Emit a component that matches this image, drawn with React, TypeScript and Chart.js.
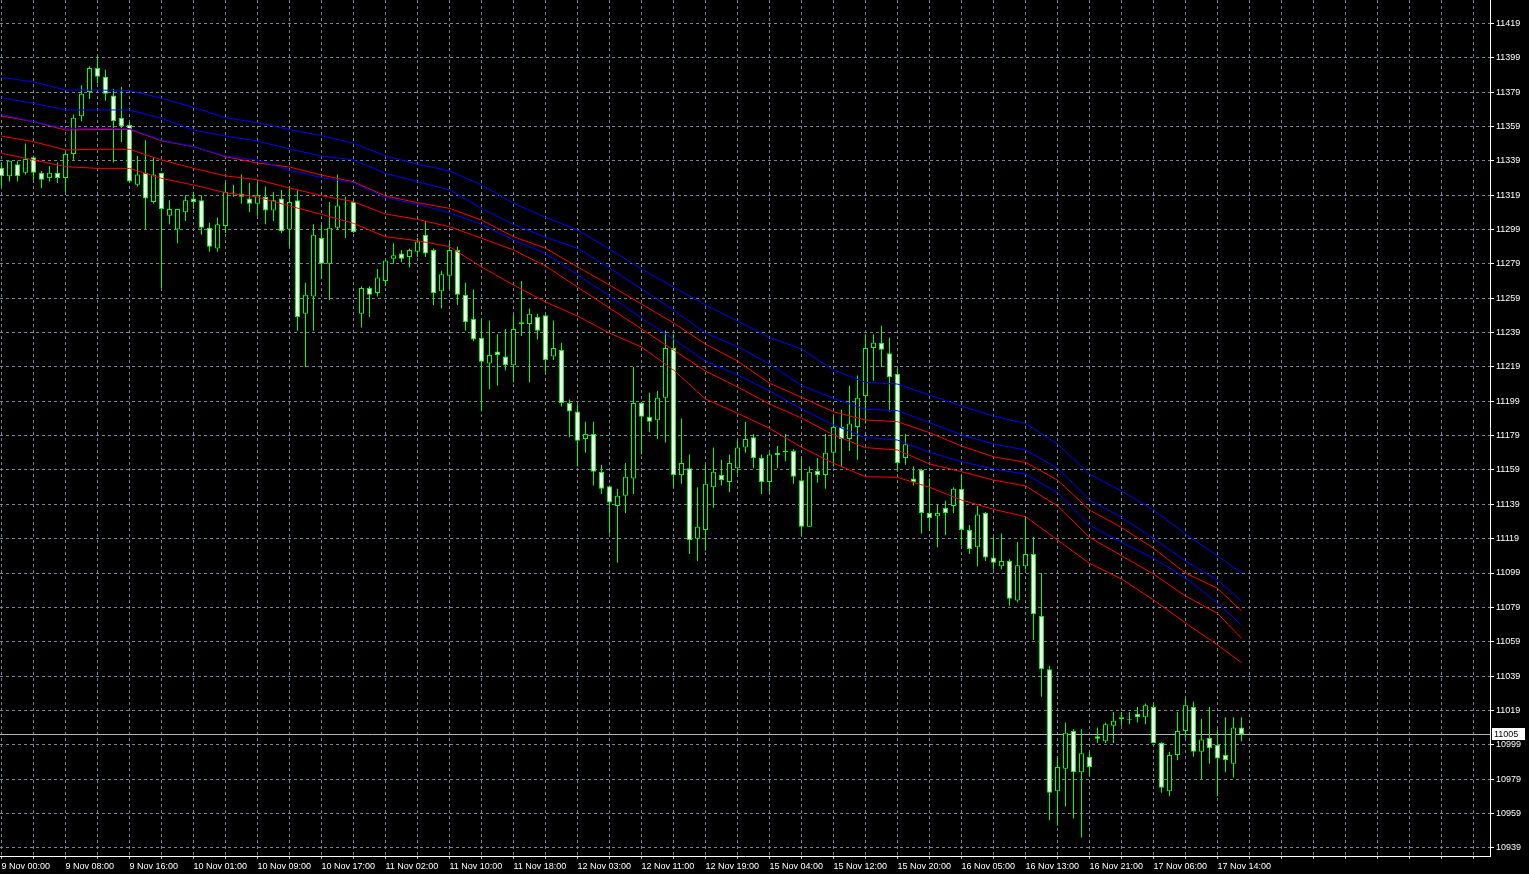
import React, { useEffect, useRef } from 'react';
import { Chart, registerables } from 'chart.js';

Chart.register(...registerables);

// X axis labels (one every 8 hourly bars)
const timeLabels = [
  '9 Nov 00:00', '9 Nov 08:00', '9 Nov 16:00', '10 Nov 01:00', '10 Nov 09:00',
  '10 Nov 17:00', '11 Nov 02:00', '11 Nov 10:00', '11 Nov 18:00', '12 Nov 03:00',
  '12 Nov 11:00', '12 Nov 19:00', '15 Nov 04:00', '15 Nov 12:00', '15 Nov 20:00',
  '16 Nov 05:00', '16 Nov 13:00', '16 Nov 21:00', '17 Nov 06:00', '17 Nov 14:00',
];

// Price axis labels
const priceTicks = [
  11419, 11399, 11379, 11359, 11339, 11319, 11299, 11279, 11259, 11239, 11219, 11199, 11179,
  11159, 11139, 11119, 11099, 11079, 11059, 11039, 11019, 10999, 10979, 10959, 10939,
];

const currentPrice = 11005;

// Hourly candles
const openP = [
  11335, 11330, 11337, 11332, 11341, 11332, 11329, 11332, 11329, 11343,
  11365, 11379, 11393, 11388, 11377, 11364, 11360, 11325, 11332, 11315,
  11332, 11307, 11299, 11309, 11317, 11316, 11300, 11288, 11301, 11321,
  11320, 11317, 11314, 11318, 11310, 11317, 11299, 11316, 11250, 11260,
  11294, 11279, 11300, 11313.5, 11315, 11250, 11265, 11262, 11269, 11282,
  11285, 11283, 11286, 11296, 11287, 11263, 11272, 11287, 11261, 11247,
  11236, 11221, 11228, 11225, 11220, 11245, 11244, 11248, 11249, 11225,
  11229, 11198, 11193, 11177, 11180, 11158, 11149.5, 11138, 11144, 11154,
  11198, 11190, 11188, 11201, 11230, 11156, 11160, 11119, 11124, 11149,
  11156, 11152, 11160, 11172, 11178, 11166, 11152, 11169, 11170, 11170,
  11153, 11126, 11158.5, 11156, 11169, 11184, 11177, 11184, 11202, 11230,
  11233, 11227, 11215, 11166, 11154, 11159, 11134, 11132, 11137, 11138,
  11148, 11124, 11114, 11134, 11108, 11103, 11106, 11083, 11103, 11110,
  11074, 11043, 10972, 10985, 11007, 10983, 10992, 11004, 11001, 11010,
  11015, 11014, 11017, 11015, 11021, 11000, 10972, 10993, 11007, 11021,
  10995, 11003, 10999, 10993, 10988, 11009,
];
const highP = [
  11338, 11339, 11339, 11349, 11342, 11333, 11336, 11338, 11344, 11366,
  11383, 11394, 11400, 11392, 11381, 11382, 11361, 11342, 11351, 11341,
  11332, 11316, 11311, 11319, 11321, 11319, 11303, 11306, 11326, 11325,
  11331, 11326, 11326, 11324, 11321, 11322, 11324, 11322, 11268, 11302,
  11302, 11315, 11331, 11318, 11316, 11266, 11266, 11276, 11281, 11291,
  11287, 11288, 11294, 11304, 11288, 11275, 11291, 11289, 11268, 11264,
  11247, 11246, 11238, 11241, 11249, 11269, 11253, 11250, 11249, 11246,
  11233, 11200, 11197, 11187, 11187, 11162, 11150, 11148, 11163, 11219,
  11198.5, 11204, 11205, 11240, 11238, 11189, 11168, 11149, 11162, 11172,
  11165, 11168, 11176, 11187, 11180, 11168, 11169, 11173, 11180, 11171,
  11166, 11161, 11166, 11180, 11190, 11194, 11208, 11214, 11238, 11238,
  11243, 11236, 11218, 11180, 11161, 11159.5, 11154, 11139, 11141, 11149,
  11156, 11127, 11138, 11134.5, 11120, 11122, 11107, 11117, 11132, 11120,
  11099, 11045, 10992, 11012, 11008, 11008, 10995, 11009, 11012, 11018,
  11018, 11018, 11021, 11023, 11023, 11000.5, 10995, 11018, 11026, 11024,
  11014, 11021, 11008, 11015, 11015, 11015,
];
const lowP = [
  11324, 11327, 11327, 11331, 11328, 11323, 11327, 11326, 11321, 11339,
  11362, 11375, 11384, 11374, 11338, 11350, 11326, 11324, 11299, 11314,
  11265, 11302, 11291, 11304, 11311, 11296, 11286, 11286, 11297, 11318,
  11314, 11309, 11307, 11302, 11304, 11297, 11289, 11240, 11219, 11240,
  11270, 11258, 11299, 11294, 11297, 11242, 11248, 11260, 11266, 11279,
  11280, 11277, 11283, 11283, 11255, 11253, 11264, 11255, 11240, 11234,
  11193, 11206, 11208, 11217, 11210, 11237, 11210, 11235, 11216, 11223,
  11196, 11178, 11161, 11169, 11150, 11145, 11122, 11105, 11134, 11145,
  11168, 11181, 11177, 11175, 11149, 11151, 11110, 11106, 11112, 11137,
  11150, 11146, 11157, 11169, 11160, 11145, 11146, 11160, 11164, 11151,
  11121, 11126, 11151.5, 11148, 11161, 11161, 11170, 11165, 11186, 11211,
  11219, 11193, 11158, 11162, 11150, 11122, 11124, 11114, 11121, 11134,
  11115, 11110, 11103, 11106, 11101, 11101, 11080, 11082, 11101, 11060,
  11027, 10955, 10952, 10963, 10956, 10945, 10981, 11000, 11000, 11000,
  11010, 11011, 11012, 11011, 11000, 10971, 10969, 10990, 11003, 10992,
  10979, 10988, 10969, 10983, 10980, 11001,
];
const closeP = [
  11330, 11339, 11330, 11340, 11332, 11328, 11332, 11329, 11343, 11364,
  11378, 11393, 11388, 11378, 11362, 11359, 11327, 11331, 11317, 11331,
  11311, 11311, 11311, 11316, 11315, 11300, 11289, 11302, 11321, 11320.5,
  11318, 11314, 11319, 11310, 11316, 11298, 11315, 11248, 11261, 11296,
  11279, 11300, 11313, 11314, 11297.5, 11265, 11261, 11271, 11281, 11284,
  11282, 11287, 11292, 11285, 11262, 11273, 11287, 11261, 11245, 11235,
  11222, 11226, 11226, 11220, 11241, 11244, 11250, 11240, 11223, 11230,
  11198, 11193, 11176, 11180, 11158, 11148, 11140, 11144, 11155, 11198,
  11190, 11187, 11201, 11230, 11156, 11163, 11118, 11126, 11151, 11158,
  11153, 11163, 11172, 11177, 11166, 11152, 11168, 11167.5, 11169.5, 11155,
  11126, 11158, 11156, 11169, 11184, 11177, 11186, 11201, 11230, 11233,
  11229, 11213, 11163, 11174, 11152, 11134, 11131, 11134, 11134, 11148,
  11124, 11113, 11133, 11108, 11105, 11106, 11084, 11103.5, 11110, 11075,
  11043, 10971, 10986, 11006, 10983, 10994, 10986, 11002.5, 11011, 11013,
  11014, 11013.5, 11015, 11022, 11000, 10974, 10993, 11007, 11022, 10995,
  11002, 10997, 10991, 10990, 11009, 11005,
];

// Indicator lines, sampled at these bar indices
const maIdx = [
  0, 4, 8, 12, 16, 20, 24, 28, 32, 36, 40, 44, 48, 52, 56, 60, 64, 68, 72, 76,
  80, 84, 88, 92, 96, 100, 104, 108, 112, 116, 120, 124, 128, 132, 136, 140, 144, 148, 152, 155,
];
const blueUpper = [
  11387.5, 11384.9, 11380.2, 11380.2, 11379.9, 11375.4, 11370.1, 11364.1, 11361.2, 11357.2,
  11353.6, 11349.2, 11341.8, 11337.0, 11333.2, 11324.9, 11314.3, 11306.1, 11298.7, 11287.6,
  11276.0, 11265.5, 11255.0, 11245.7, 11236.2, 11229.4, 11217.2, 11210.0, 11209.0, 11202.6,
  11196.2, 11190.4, 11186.0, 11174.1, 11156.6, 11146.7, 11135.7, 11121.7, 11108.9, 11099.0,
];
const blueMiddle = [
  11375.7, 11372.5, 11368.6, 11368.6, 11368.6, 11363.7, 11356.9, 11353.4, 11350.5, 11345.9,
  11341.8, 11339.5, 11331.7, 11326.8, 11322.0, 11311.3, 11302.0, 11294.5, 11288.1, 11276.6,
  11264.4, 11252.1, 11238.7, 11230.8, 11220.7, 11208.1, 11200.7, 11194.3, 11193.5, 11186.5,
  11179.4, 11174.1, 11170.6, 11160.1, 11141.5, 11131.3, 11119.1, 11106.0, 11094.9, 11082.7,
];
const blueLower = [
  11366.1, 11361.8, 11357.9, 11357.9, 11357.8, 11351.1, 11347.2, 11341.8, 11339.3, 11333.6,
  11329.2, 11326.2, 11317.5, 11313.7, 11308.8, 11302.0, 11292.9, 11285.1, 11272.5, 11260.3,
  11247.5, 11235.2, 11222.4, 11214.3, 11205.0, 11194.5, 11185.2, 11178.0, 11176.4, 11169.3,
  11163.8, 11159.5, 11156.6, 11145.7, 11126.9, 11116.8, 11107.6, 11096.1, 11081.4, 11068.7,
];
const redUpper = [
  11365.1, 11361.8, 11356.9, 11357.2, 11357.3, 11350.7, 11347.2, 11341.4, 11337.7, 11335.4,
  11330.7, 11326.8, 11318.5, 11314.6, 11311.3, 11304.5, 11294.8, 11288.1, 11277.2, 11266.7,
  11255.6, 11244.6, 11232.3, 11222.4, 11209.5, 11201.3, 11192.9, 11188.1, 11187.1, 11180.7,
  11172.9, 11166.7, 11163.4, 11153.1, 11135.7, 11125.5, 11113.4, 11099.0, 11090.1, 11076.9,
];
const redMiddle = [
  11353.4, 11350.1, 11345.3, 11345.7, 11345.7, 11339.5, 11334.6, 11330.2, 11328.0, 11323.2,
  11318.7, 11315.2, 11308.0, 11304.9, 11300.6, 11293.9, 11287.1, 11277.7, 11265.5, 11253.3,
  11241.1, 11228.8, 11216.6, 11207.3, 11197.4, 11189.2, 11179.4, 11172.0, 11170.6, 11162.5,
  11158.0, 11153.1, 11149.7, 11138.0, 11119.8, 11109.1, 11098.4, 11085.6, 11075.5, 11061.0,
];
const redLower = [
  11343.4, 11339.5, 11335.6, 11334.6, 11334.6, 11328.8, 11324.9, 11320.4, 11317.9, 11312.7,
  11307.8, 11302.6, 11294.8, 11292.5, 11289.0, 11277.2, 11266.7, 11256.8, 11248.6, 11238.7,
  11230.6, 11217.2, 11200.3, 11192.0, 11183.3, 11172.2, 11162.9, 11155.1, 11154.7, 11148.9,
  11141.5, 11136.1, 11131.8, 11118.2, 11104.6, 11095.5, 11083.3, 11069.9, 11057.1, 11046.8,
];

const FONT = 'Liberation Sans, Arial, sans-serif';

export default function App() {
  const ref = useRef<HTMLCanvasElement>(null);

  useEffect(() => {
    document.body.style.margin = '0';
    document.body.style.background = '#000000';
    const canvas = ref.current;
    if (!canvas) return;

    const idx = openP.map((_, i) => i);
    const bodies = idx.map((i) => ({ x: i, y: [openP[i], closeP[i]] }));
    const wicks = idx.map((i) => ({ x: i, y: [lowP[i], highP[i]] }));
    const bodyColors = idx.map((i) => (closeP[i] < openP[i] ? '#ffffff' : '#000000'));

    const lineDs = (vals: number[], color: string) => ({
      type: 'line' as const,
      data: maIdx.map((x, j) => ({ x, y: vals[j] })),
      borderColor: color,
      borderWidth: 1,
      pointRadius: 0,
      tension: 0,
      fill: false,
      order: 0,
    });

    const bgPlugin = {
      id: 'bgfill',
      beforeDraw(c: any) {
        const ctx = c.ctx;
        ctx.save();
        ctx.fillStyle = '#000000';
        ctx.fillRect(0, 0, c.width, c.height);
        ctx.restore();
      },
    };

    const pricePlugin = {
      id: 'pricemark',
      beforeDatasetsDraw(c: any) {
        const ctx = c.ctx;
        const y = Math.round(c.scales.y.getPixelForValue(currentPrice)) + 0.5;
        ctx.save();
        ctx.strokeStyle = '#b4b4b4';
        ctx.lineWidth = 1;
        ctx.beginPath();
        ctx.moveTo(c.chartArea.left, y);
        ctx.lineTo(c.chartArea.right, y);
        ctx.stroke();
        ctx.restore();
      },
      afterDraw(c: any) {
        const ctx = c.ctx;
        const y = Math.round(c.scales.y.getPixelForValue(currentPrice));
        const x = c.chartArea.right + 2;
        ctx.save();
        ctx.fillStyle = '#ffffff';
        ctx.fillRect(x, y - 6, 33, 12);
        ctx.fillStyle = '#000000';
        ctx.font = '9px ' + FONT;
        ctx.textBaseline = 'middle';
        ctx.textAlign = 'left';
        ctx.fillText(String(currentPrice), x + 2, y + 0.5);
        ctx.restore();
      },
    };

    const chart = new Chart(canvas, {
      type: 'bar',
      data: {
        datasets: [
          lineDs(blueUpper, '#0000ff'),
          lineDs(blueMiddle, '#0000ff'),
          lineDs(blueLower, '#0000ff'),
          lineDs(redUpper, '#ff0000'),
          lineDs(redMiddle, '#ff0000'),
          lineDs(redLower, '#ff0000'),
          {
            type: 'bar',
            data: bodies as any,
            backgroundColor: bodyColors,
            borderColor: '#00ff00',
            borderWidth: 1,
            borderSkipped: false,
            barThickness: 5,
            grouped: false,
            inflateAmount: 0,
            order: 1,
          } as any,
          {
            type: 'bar',
            data: wicks as any,
            backgroundColor: '#00ff00',
            borderWidth: 0,
            barThickness: 1,
            grouped: false,
            inflateAmount: 0,
            order: 2,
          } as any,
        ],
      },
      options: {
        animation: false,
        responsive: false,
        maintainAspectRatio: false,
        devicePixelRatio: 1,
        events: [],
        layout: { padding: 0 },
        plugins: { legend: { display: false }, tooltip: { enabled: false } },
        scales: {
          x: {
            type: 'linear',
            position: 'bottom',
            min: -0.1875,
            max: 186.0625,
            offset: false,
            afterBuildTicks: (s: any) => {
              const t: { value: number }[] = [];
              for (let v = 0; v <= 184; v += 4) t.push({ value: v });
              s.ticks = t;
            },
            afterFit: (s: any) => {
              s.height = 18;
              s.paddingLeft = 0;
              s.paddingRight = 0;
            },
            grid: {
              offset: false,
              color: '#778899',
              lineWidth: 1,
              drawTicks: true,
              tickLength: 3,
              tickColor: '#c8c8c8',
            },
            border: { display: true, color: '#ffffff', width: 1, dash: [3, 3] },
            ticks: {
              autoSkip: false,
              maxRotation: 0,
              minRotation: 0,
              align: 'start',
              padding: 2,
              color: '#ffffff',
              font: { family: FONT, size: 9 },
              callback: (v: any) => {
                const i = Number(v);
                if (i % 8 === 0 && i / 8 < timeLabels.length) return timeLabels[i / 8];
                return '';
              },
            },
          } as any,
          y: {
            type: 'linear',
            position: 'right',
            min: 10934.23,
            max: 11432.62,
            beginAtZero: false,
            afterBuildTicks: (s: any) => {
              s.ticks = priceTicks.map((v) => ({ value: v }));
            },
            afterFit: (s: any) => {
              s.width = 39;
              s.paddingTop = 0;
              s.paddingBottom = 0;
            },
            grid: {
              color: '#778899',
              lineWidth: 1,
              drawTicks: true,
              tickLength: 4,
              tickColor: '#ffffff',
            },
            border: { display: true, color: '#ffffff', width: 1, dash: [3, 3] },
            ticks: {
              autoSkip: false,
              padding: 2,
              color: '#ffffff',
              font: { family: FONT, size: 9 },
              callback: (v: any) => String(v),
            },
          } as any,
        },
      },
      plugins: [bgPlugin, pricePlugin],
    } as any);

    return () => chart.destroy();
  }, []);

  return (
    <canvas
      ref={ref}
      width={1529}
      height={874}
      style={{ display: 'block', width: '1529px', height: '874px' }}
    />
  );
}
